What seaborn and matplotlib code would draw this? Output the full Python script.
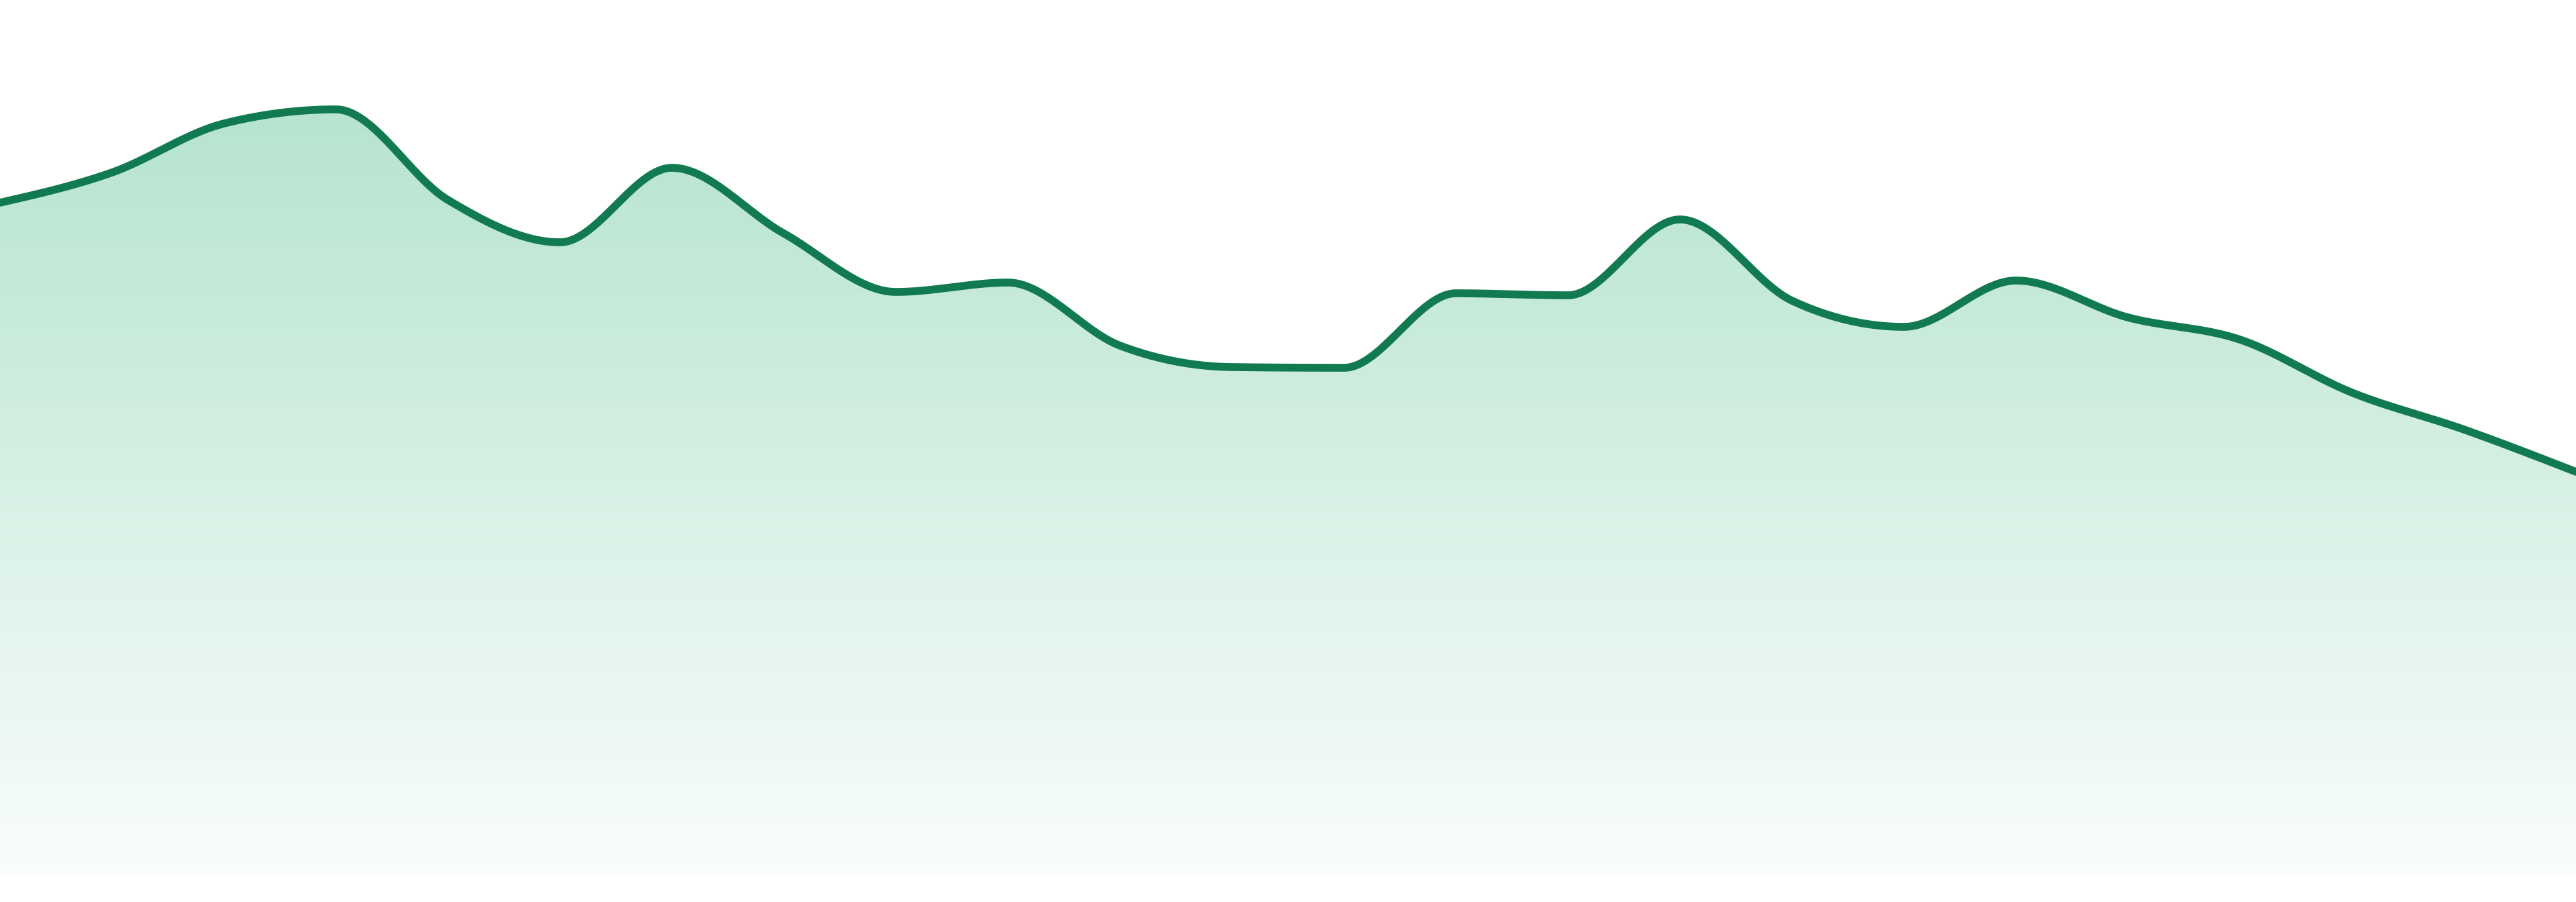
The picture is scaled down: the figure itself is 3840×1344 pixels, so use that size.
import numpy as np
import matplotlib
matplotlib.use("Agg")
import matplotlib.pyplot as plt
from matplotlib.colors import LinearSegmentedColormap
from matplotlib.patches import PathPatch
from matplotlib.path import Path
import seaborn as sns

# values, one per period
periods = list(range(24))
values = [100.3, 104.8, 112.1, 114.2, 100.7, 94.4, 105.5, 95.7, 87.0, 88.4,
          79.0, 75.8, 75.7, 86.8, 86.5, 97.8, 85.7, 81.8, 88.7, 83.2,
          79.9, 72.0, 66.5, 60.2]

line_color = "#117a50"
fill_top = "#b6e4cf"
fill_bottom = "#f9fdfb"


def monotone_curve(x, y, steps=60):
    """Monotone cubic (same as d3.curveMonotoneX) through the points."""
    x = np.asarray(x, float)
    y = np.asarray(y, float)
    h = np.diff(x)
    s = np.diff(y) / h
    t = np.zeros_like(y)
    for i in range(1, len(y) - 1):
        s0, s1 = s[i - 1], s[i]
        p = (s0 * h[i] + s1 * h[i - 1]) / (h[i - 1] + h[i])
        t[i] = (np.sign(s0) + np.sign(s1)) * min(abs(s0), abs(s1), 0.5 * abs(p))
    t[0] = (3 * s[0] - t[1]) / 2
    t[-1] = (3 * s[-1] - t[-2]) / 2
    xs, ys = [], []
    for i in range(len(h)):
        u = np.linspace(0, 1, steps, endpoint=False)
        h00 = 2 * u**3 - 3 * u**2 + 1
        h10 = u**3 - 2 * u**2 + u
        h01 = -2 * u**3 + 3 * u**2
        h11 = u**3 - u**2
        xs.append(x[i] + u * h[i])
        ys.append(h00 * y[i] + h10 * h[i] * t[i] + h01 * y[i + 1] + h11 * h[i] * t[i + 1])
    xs.append([x[-1]])
    ys.append([y[-1]])
    return np.concatenate(xs), np.concatenate(ys)


sns.set_style("white")
fig = plt.figure(figsize=(38.4, 13.44), dpi=100)
ax = fig.add_axes([0, 39 / 1344, 1, 1305 / 1344])

cx, cy = monotone_curve(periods, values)

# gradient fill clipped to the area under the curve
cmap = LinearSegmentedColormap.from_list("grad", [fill_bottom, fill_top])
grad = np.linspace(0, 1, 512).reshape(-1, 1)
img = ax.imshow(grad, cmap=cmap, origin="lower", aspect="auto",
                extent=[0, 23, 0, max(values)], zorder=1)
verts = np.column_stack([np.r_[cx, cx[-1], cx[0]], np.r_[cy, 0, 0]])
clip = PathPatch(Path(verts), transform=ax.transData, facecolor="none", edgecolor="none")
ax.add_patch(clip)
img.set_clip_path(clip)

line = sns.lineplot(x=cx, y=cy, sort=False, estimator=None, ax=ax, zorder=3)
for ln in ax.lines:
    ln.set_color(line_color)
    ln.set_linewidth(8.4)
    ln.set_solid_joinstyle("round")

ax.set_xlim(0, 23)
ax.set_ylim(0, 130.5)
ax.axis("off")
fig.savefig("out.png", dpi=100, facecolor="white")
